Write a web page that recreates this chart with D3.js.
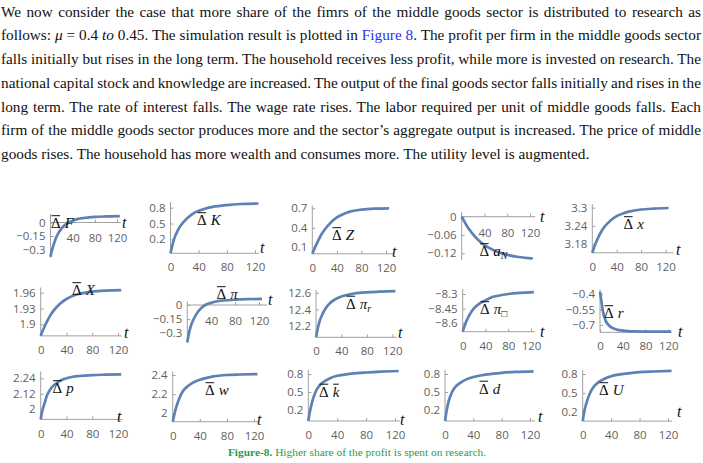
<!DOCTYPE html>
<html>
<head>
<meta charset="utf-8">
<script src="https://cdn.jsdelivr.net/npm/d3@7"></script>
<style>
  body { margin: 0; background: #fff; }
  svg { display: block; }
</style>
</head>
<body>
<div id="chart"></div>
<script>
var svgW = 703;
var svgH = 463;

// paragraph, line by line as in the page
var paraLines = [
  [["We now consider the case that more share of the fimrs of the middle goods sector is distributed to research as", ""]],
  [["follows: ", ""], ["μ", "i"], [" = 0.4 ", ""], ["to", "i"], [" 0.45. The simulation result is plotted in ", ""], ["Figure 8", "link"], [". The profit per firm in the middle goods sector", ""]],
  [["falls initially but rises in the long term. The household receives less profit, while more is invested on research. The", ""]],
  [["national capital stock and knowledge are increased. The output of the final goods sector falls initially and rises in the", ""]],
  [["long term. The rate of interest falls. The wage rate rises. The labor required per unit of middle goods falls. Each", ""]],
  [["firm of the middle goods sector produces more and the sector\u2019s aggregate output is increased. The price of middle", ""]],
  [["goods rises. The household has more wealth and consumes more. The utility level is augmented.", ""]]
];
var captionBold = "Figure-8.";
var captionText = " Higher share of the profit is spent on research.";

// time points of the simulation curves
var tGrid = [0, 2.5, 5, 10, 15, 20, 30, 40, 50, 60, 80, 100, 125];

var dF    = [-0.38, -0.31, -0.26, -0.17, -0.11, -0.065, -0.01, 0.02, 0.04, 0.05, 0.062, 0.067, 0.07];
var dK    = [-0.065, 0.08, 0.2, 0.36, 0.47, 0.55, 0.67, 0.74, 0.785, 0.815, 0.85, 0.87, 0.88];
var dZ    = [0, 0.055, 0.11, 0.21, 0.3, 0.37, 0.48, 0.56, 0.61, 0.645, 0.68, 0.695, 0.70];
var daN   = [0, -0.0085, -0.017, -0.033, -0.046, -0.058, -0.078, -0.093, -0.104, -0.113, -0.125, -0.132, -0.137];
var dx    = [3.151, 3.167, 3.18, 3.203, 3.222, 3.237, 3.258, 3.272, 3.281, 3.287, 3.294, 3.297, 3.299];
var dX    = [1.878, 1.886, 1.893, 1.906, 1.917, 1.926, 1.939, 1.948, 1.954, 1.958, 1.962, 1.964, 1.965];
var dPi   = [-0.4, -0.31, -0.245, -0.16, -0.1, -0.055, 0.0, 0.025, 0.04, 0.048, 0.057, 0.062, 0.065];
var dPiR  = [12.064, 12.16, 12.24, 12.34, 12.41, 12.46, 12.52, 12.555, 12.575, 12.59, 12.605, 12.612, 12.618];
var dPiB  = [-8.686, -8.64, -8.6, -8.535, -8.485, -8.445, -8.395, -8.365, -8.335, -8.32, -8.3, -8.288, -8.28];
var dr    = [-0.378, -0.47, -0.565, -0.66, -0.70, -0.723, -0.745, -0.754, -0.759, -0.762, -0.764, -0.765, -0.765];
var dp    = [1.922, 1.99, 2.03, 2.11, 2.155, 2.185, 2.22, 2.24, 2.252, 2.258, 2.265, 2.268, 2.27];
var dw    = [1.912, 1.99, 2.06, 2.16, 2.23, 2.27, 2.32, 2.35, 2.37, 2.385, 2.4, 2.405, 2.41];
var dkbar = [0.017, 0.19, 0.32, 0.5, 0.6, 0.66, 0.73, 0.77, 0.79, 0.805, 0.825, 0.84, 0.85];
var dd    = [0.017, 0.2, 0.34, 0.5, 0.59, 0.64, 0.71, 0.75, 0.775, 0.795, 0.82, 0.835, 0.845];
var dU    = [0.05, 0.22, 0.33, 0.49, 0.59, 0.65, 0.72, 0.765, 0.79, 0.805, 0.83, 0.84, 0.85];

// tick labels
var tTicks = [0, 40, 80, 120];
var tTicksNoZero = [40, 80, 120];
var ticksF = [0, -0.15, -0.3];
var ticksK = [0.2, 0.5, 0.8];
var ticksZ = [0.1, 0.4, 0.7];
var ticksAN = [0, -0.06, -0.12];
var ticksx = [3.18, 3.24, 3.3];
var ticksX = [1.9, 1.93, 1.96];
var ticksPi = [0, -0.15, -0.3];
var ticksPiR = [12.2, 12.4, 12.6];
var ticksPiB = [-8.6, -8.45, -8.3];
var ticksR = [-0.7, -0.55, -0.4];
var ticksP = [2, 2.12, 2.24];
var ticksW = [2, 2.2, 2.4];
var ticksKbar = [0.2, 0.5, 0.8];
var ticksD = [0.2, 0.5, 0.8];
var ticksU = [0.2, 0.5, 0.8];

// panel placement (pixels) and where the t axis crosses
var panels = [
  {sym: "F", data: dF, ticks: ticksF, tickPx: [222.5, 249.5], x0: 50.5, x120: 117, xEnd: 127, yTop: 214, yBot: 257.5, axisAt: 0, xLabs: tTicksNoZero, xPad: 11, tPos: [122, 228], lab: [51, 228]},
  {sym: "K", data: dK, ticks: ticksK, tickPx: [239.3, 207.7], x0: 170.5, x120: 255, xEnd: 126, yTop: 202, axisAt: -0.065, xLabs: tTicks, tPos: [260, 253], lab: [197, 225]},
  {sym: "Z", data: dZ, ticks: ticksZ, tickPx: [247.3, 208.3], x0: 312.3, x120: 386, xEnd: 132, yTop: 205.5, axisAt: 0, xLabs: tTicks, tPos: [392, 257], lab: [332, 240]},
  {sym: "a", sub: "N", data: daN, ticks: ticksAN, tickPx: [216.7, 253.3], x0: 461.7, x120: 530, xEnd: 129, yTop: 212, yBot: 260, axisAt: 0, xLabs: tTicksNoZero, xPad: 12, tPos: [540, 222], lab: [479.5, 256]},
  {sym: "x", data: dx, ticks: ticksx, tickPx: [244, 207.7], x0: 592.3, x120: 665.5, xEnd: 133, yTop: 204, axisAt: 3.151, xLabs: tTicks, tPos: [676, 255], lab: [623.5, 229]},

  {sym: "X", data: dX, ticks: ticksX, tickPx: [324.3, 292.7], x0: 40.7, x120: 118, xEnd: 126, yTop: 287.5, axisAt: 1.878, xLabs: tTicks, tPos: [124, 338], lab: [72, 295]},
  {sym: "π", data: dPi, ticks: ticksPi, tickPx: [305, 333], x0: 187.3, x120: 259, xEnd: 134, yTop: 301.5, yBot: 343, axisAt: 0, xLabs: tTicksNoZero, xPad: 12, tPos: [268, 305], lab: [216.5, 299]},
  {sym: "π", sub: "r", data: dPiR, ticks: ticksPiR, tickPx: [326, 292.7], x0: 316, x120: 392.3, xEnd: 127, yTop: 290, axisAt: 12.064, xLabs: tTicks, tPos: [398, 338], lab: [346, 308.5]},
  {sym: "π", sub: "\u25A1", data: dPiB, ticks: ticksPiB, tickPx: [323.3, 294], x0: 462.7, x120: 531, xEnd: 127, yTop: 289, axisAt: -8.686, xLabs: tTicks, tPos: [540, 337], lab: [480, 314]},
  {sym: "r", data: dr, ticks: ticksR, tickPx: [325, 294], x0: 600, x120: 668.3, xEnd: 126, yTop: 289.5, axisAt: -0.771, xLabs: tTicks, tPos: [678, 337], lab: [604, 318]},

  {sym: "p", data: dp, ticks: ticksP, tickPx: [409.3, 378.3], x0: 40.7, x120: 118, xEnd: 127, yTop: 371.5, axisAt: 1.922, xLabs: tTicks, tPos: [117, 422], lab: [52.5, 393]},
  {sym: "w", data: dw, ticks: ticksW, tickPx: [413.3, 375], x0: 172.7, x120: 254, xEnd: 126, yTop: 371.5, axisAt: 1.912, xLabs: tTicks, tPos: [257, 425], lab: [205, 395]},
  {sym: "k", bar: true, data: dkbar, ticks: ticksKbar, tickPx: [410, 374], x0: 308.3, x120: 395, xEnd: 127, yTop: 370, axisAt: 0.017, xLabs: tTicks, tPos: [400, 425], lab: [319, 396.5]},
  {sym: "d", data: dd, ticks: ticksD, tickPx: [410, 374], x0: 445, x120: 530, xEnd: 127, yTop: 370, axisAt: 0.017, xLabs: tTicks, tPos: [538, 422], lab: [479, 393.5]},
  {sym: "U", data: dU, ticks: ticksU, tickPx: [411.7, 374], x0: 582.7, x120: 668, xEnd: 126, yTop: 370, axisAt: 0.05, xLabs: tTicks, tPos: [677, 417], lab: [599, 395]}
];

var svg = d3.select("#chart")
  .append("svg")
  .attr("width", svgW)
  .attr("height", svgH);

// ---- paragraph ----
var serif = "'Liberation Serif', 'Times New Roman', serif";
var lineTop = 16.5, lineGap = 23.75;
var para = svg.append("g").attr("font-family", serif).attr("font-size", 14).attr("fill", "#111");

var lineNodes = paraLines.map(function(segs, i) {
  var t = para.append("text").attr("x", 1).attr("y", lineTop + i * lineGap);
  segs.forEach(function(s) {
    var ts = t.append("tspan").text(s[0]);
    if (s[1] === "i") ts.attr("font-style", "italic");
    if (s[1] === "link") ts.attr("fill", "#2f2ff0");
  });
  return t;
});

// size the font so the last (ragged) line ends where it does in the page
var lastW = lineNodes[lineNodes.length - 1].node().getComputedTextLength();
var fs = 14 * 589 / lastW;
para.attr("font-size", fs);

// justify the full lines
lineNodes.forEach(function(t, i) {
  if (i === lineNodes.length - 1) return;
  var w = t.node().getComputedTextLength();
  var str = paraLines[i].map(function(s) { return s[0]; }).join("");
  var n = str.split(" ").length - 1;
  t.attr("word-spacing", (700 - w) / n);
});

// ---- caption ----
var cap = svg.append("text")
  .attr("x", 357)
  .attr("y", 456)
  .attr("text-anchor", "middle")
  .attr("font-family", serif)
  .attr("font-size", 11.4)
  .attr("fill", "#1fa048");
cap.append("tspan").attr("font-weight", "bold").text(captionBold);
cap.append("tspan").text(captionText);

// ---- small panels ----
var fmt = d3.format("");
var axisColor = "#a0a0a0";
var labelColor = "#5f5f5f";
var curveColor = "#5e81b5";

function drawLabel(g, px, py, p) {
  var lfs = 15;
  var t = g.append("text")
    .attr("x", px)
    .attr("y", py)
    .attr("font-family", serif)
    .attr("font-size", lfs)
    .attr("fill", "#111");
  t.append("tspan").text("\u0394");
  t.append("tspan").attr("dx", 4).attr("font-style", "italic").text(p.sym);
  if (p.sub) {
    t.append("tspan").attr("font-style", "italic").attr("font-size", 10).attr("dy", 3).text(p.sub);
  }
  var node = t.node();
  var bars = [0];
  if (p.bar) bars.push(1);
  bars.forEach(function(ci) {
    var r = node.getExtentOfChar(ci);
    g.append("line")
      .attr("x1", r.x + 0.5)
      .attr("x2", r.x + r.width - 0.5)
      .attr("y1", py - lfs * 0.82)
      .attr("y2", py - lfs * 0.82)
      .attr("stroke", "#111")
      .attr("stroke-width", 1);
  });
}

panels.forEach(function(p) {
  var x = d3.scaleLinear().domain([0, 120]).range([p.x0, p.x120]);
  var y = d3.scaleLinear()
    .domain([p.ticks[0], p.ticks[p.ticks.length - 1]])
    .range(p.tickPx);
  var g = svg.append("g");
  var axY = y(p.axisAt);

  // y axis
  var gy = g.append("g")
    .attr("transform", `translate(${p.x0},0)`)
    .call(d3.axisLeft(y).tickValues(p.ticks).tickSize(-3).tickPadding(5).tickFormat(fmt));
  gy.select(".domain").remove();

  // t axis
  var gx = g.append("g")
    .attr("transform", `translate(0,${axY})`)
    .call(d3.axisBottom(x).tickValues(p.xLabs).tickSize(-3).tickPadding(p.xPad || 10).tickFormat(fmt));
  gx.select(".domain").remove();

  [gx, gy].forEach(function(a) {
    a.attr("font-family", "'Open Sans', 'Liberation Sans', sans-serif").attr("font-size", 11.5);
    a.selectAll("text").attr("fill", labelColor);
    a.selectAll("line").attr("stroke", axisColor);
  });

  g.append("line")
    .attr("x1", p.x0).attr("x2", p.x0)
    .attr("y1", p.yTop).attr("y2", p.yBot || axY)
    .attr("stroke", axisColor);
  g.append("line")
    .attr("x1", p.x0).attr("x2", x(p.xEnd))
    .attr("y1", axY).attr("y2", axY)
    .attr("stroke", axisColor);

  // curve
  var pts = tGrid.map(function(t, i) { return {t: t, v: p.data[i]}; });
  var line = d3.line()
    .x(d => x(d.t))
    .y(d => y(d.v))
    .curve(d3.curveMonotoneX);
  g.append("path")
    .datum(pts)
    .attr("d", line)
    .attr("fill", "none")
    .attr("stroke", curveColor)
    .attr("stroke-width", 2.7);

  // "t" axis name
  g.append("text")
    .attr("x", p.tPos[0])
    .attr("y", p.tPos[1])
    .attr("font-family", serif)
    .attr("font-style", "italic")
    .attr("font-size", 16)
    .attr("fill", "#111")
    .text("t");

  drawLabel(g, p.lab[0], p.lab[1], p);
});
</script>
</body>
</html>
